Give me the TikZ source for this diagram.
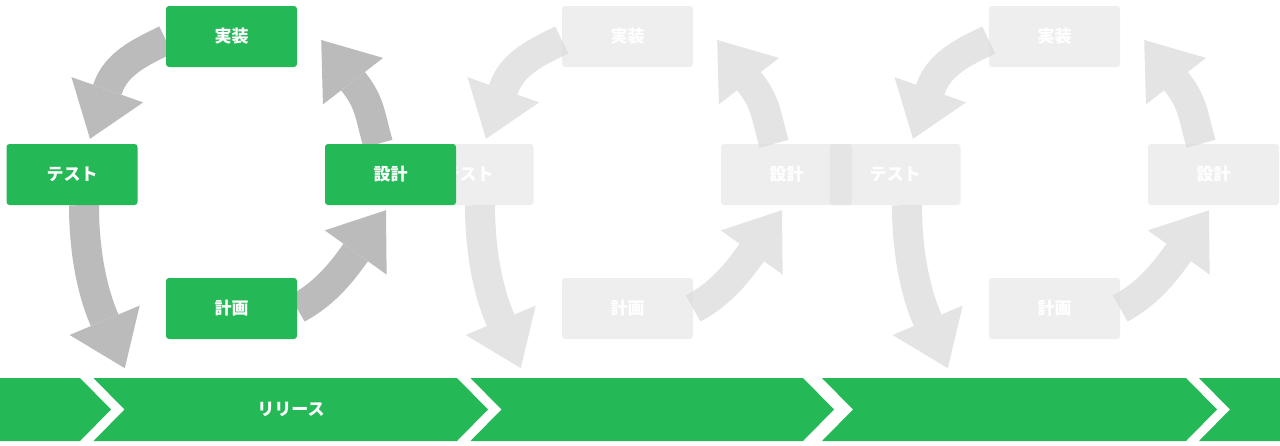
\documentclass[tikz,border=0pt]{standalone}
\usepackage{fontspec}
\setmainfont{Noto Sans CJK JP}
\usetikzlibrary{arrows.meta,backgrounds,calc}
\definecolor{step-green}{HTML}{25b856}
\definecolor{step-grey}{HTML}{dddddd}
\definecolor{turn-grey}{HTML}{bbbbbb}
\definecolor{turn-faded}{HTML}{e4e4e4}

\begin{document}
\begin{tikzpicture}[
    x=1pt, y=-1pt,
    phase/.style={
        rectangle, rounded corners=3pt,
        minimum width=131pt, minimum height=61pt, inner sep=0pt,
        text=white, text opacity=1,
        font=\fontsize{17}{20}\selectfont\bfseries,
    },
    turn/.style={
        line width=30pt,
        -{Triangle[width=76pt,length=52pt,line width=0pt]},
    },
]
\useasboundingbox (0,0) rectangle (1280,445);

\foreach \n/\dx/\fillc/\turnc/\op in {
    3/823/step-grey/turn-faded/0.5,
    2/396/step-grey/turn-faded/0.5,
    1/0/step-green/turn-grey/1}
{
\begin{scope}[xshift=\dx pt]
    \node[phase, fill=\fillc, fill opacity=\op] (impl-\n) at (231.5,36.5) {実装};
    \node[phase, fill=\fillc, fill opacity=\op] (test-\n) at (72,174.5) {テスト};
    \node[phase, fill=\fillc, fill opacity=\op] (design-\n) at (390.5,174.5) {設計};
    \node[phase, fill=\fillc, fill opacity=\op] (plan-\n) at (231.5,308.5) {計画};
    \begin{scope}[on background layer]
        \draw[turn, color=\turnc] ($(impl-\n.west)+(0,3.5)$)
            .. controls +(-24,11.5) and +(8.5,-24.6) .. ($(test-\n.north)+(36,-56)$)
            -- ($(test-\n.north)+(18,-5)$);
        \draw[turn, color=\turnc] ($(test-\n.south)+(12,0)$)
            .. controls +(0,45) and +(-12,-28) .. ($(plan-\n.south west)+(-62,-21)$)
            -- ($(plan-\n.south west)+(-41,29)$);
        \draw[turn, color=\turnc] (plan-\n.east)
            .. controls +(26,-14) and +(-15,21) .. ($(design-\n.south)+(-36,49)$)
            -- ($(design-\n.south)+(-4.5,5)$);
        \draw[turn, color=\turnc] ($(design-\n.north)+(-12.5,0)$)
            .. controls +(-8,-28) and +(16,20.5) .. ($(impl-\n.east)+(57,46.2)$)
            -- ($(impl-\n.east)+(24,3.5)$);
    \end{scope}
\end{scope}
}

\fill[step-green] (0,378) -- (80,378) -- ++(31,31.5) -- (80,441) -- (0,441) -- cycle;
\foreach \l/\r in {93.5/457, 470.5/803, 822/1186}
    \fill[step-green] (\l,378) -- (\r,378) -- ++(31,31.5) -- (\r,441) -- (\l,441) -- ++(31,-31.5) -- cycle;
\fill[step-green] (1199,378) -- (1280,378) -- (1280,441) -- (1199,441) -- ++(31,-31.5) -- cycle;
\node[font=\fontsize{17}{20}\selectfont\bfseries, text=white] (release) at (291,409.5) {リリース};
\end{tikzpicture}
\end{document}
